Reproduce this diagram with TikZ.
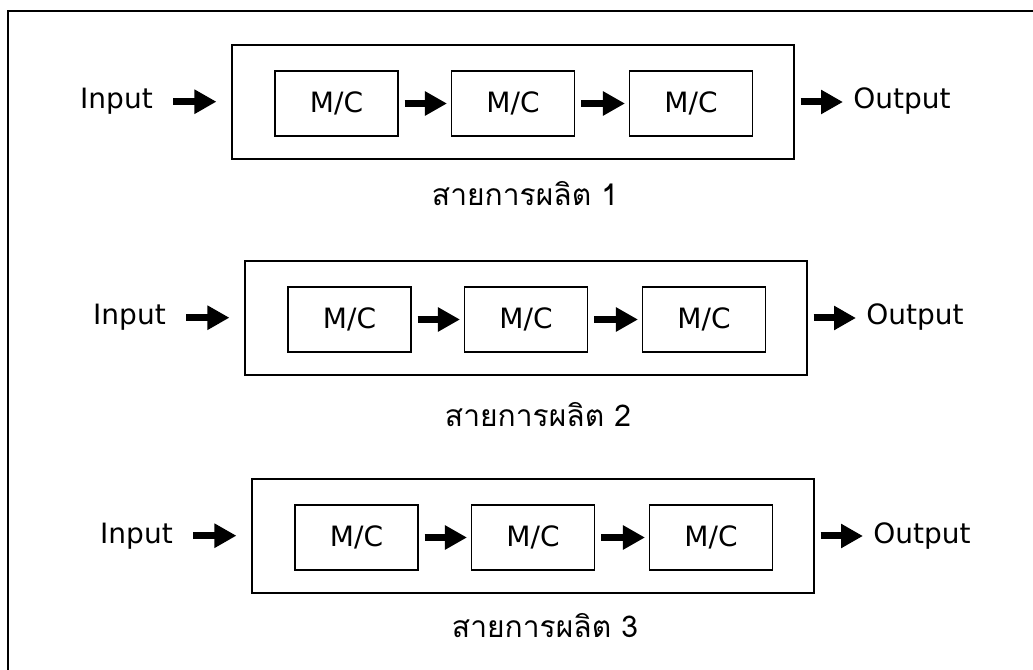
\documentclass[tikz,border=0pt]{standalone}
\usepackage{fontspec}
\setmainfont{DejaVu Sans}
\newfontfamily\thaifont[Script=Thai]{Loma}
\usetikzlibrary{arrows.meta}
\begin{document}
\begin{tikzpicture}[x=0.75pt,y=-0.75pt,
  mcbox/.style={draw, line width=0.8pt, minimum width=92.25pt, minimum height=48.75pt, inner sep=0pt, font=\fontsize{21}{25}\selectfont},
  linebox/.style={draw, line width=0.8pt, minimum width=421.5pt, minimum height=85.5pt, inner sep=0pt},
  io/.style={inner sep=0pt, font=\fontsize{21}{25}\selectfont},
  lbl/.style={inner sep=0pt, font=\thaifont\fontsize{22.5}{26}\selectfont},
  blockarrow/.style={line width=5.25pt, -{Triangle[length=16.5pt,width=17.25pt]}},
]
\useasboundingbox (0,0) rectangle (1033,670);
\clip (0,0) rectangle (1033,670);
\fill[white] (0,0) rectangle (1033,670);
\draw[line width=1pt] (8,11) rectangle (1045,685);
\foreach \r/\dx/\cy/\lb in {1/0/102/206, 2/13/318/427, 3/20/536/638} {
  \node[linebox] (ob\r) at (513+\dx,\cy) {};
  \node[mcbox] (ma\r) at (336.5+\dx,\cy+1.5) {M/C};
  \node[mcbox] (mb\r) at (513+\dx,\cy+1.5) {M/C};
  \node[mcbox] (mc\r) at (691+\dx,\cy+1.5) {M/C};
  \node[io, anchor=base east] (in\r) at (153+\dx,\cy+7) {Input};
  \node[io, anchor=base west] (out\r) at (853+\dx,\cy+7) {Output};
  \node[lbl, anchor=base] (lab\r) at (525+\dx,\lb) {สายการผลิต \r};
  \draw[blockarrow, shorten <=15pt, shorten >=11.25pt] (in\r.east) -- (in\r.east -| ob\r.west);
  \draw[blockarrow, shorten <=4.5pt, shorten >=3pt] (ma\r.east) -- (mb\r.west);
  \draw[blockarrow, shorten <=4.5pt, shorten >=3pt] (mb\r.east) -- (mc\r.west);
  \draw[blockarrow, shorten <=4.5pt, shorten >=7.5pt] (ob\r.east) -- (ob\r.east -| out\r.west);
}
\end{tikzpicture}
\end{document}
